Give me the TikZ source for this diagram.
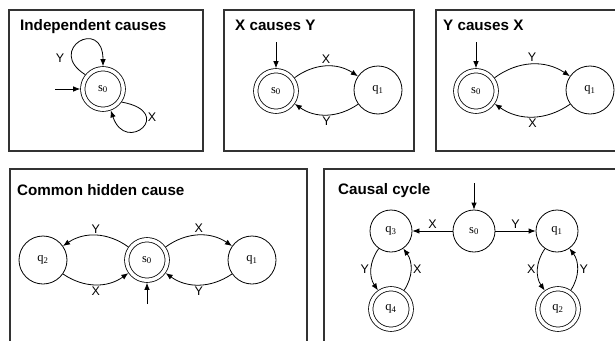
\documentclass[tikz,border=0pt]{standalone}
\usepackage{fontspec}
\setmainfont{Liberation Serif}
\newfontfamily\headfont{Liberation Sans}
\usetikzlibrary{arrows.meta}
\tikzset{
  panel/.style={draw=black!80, line width=1.1pt},
  heading/.style={anchor=base west, inner sep=0pt,
    font=\headfont\bfseries\fontsize{15.2}{17}\selectfont},
  lbl/.style={font=\headfont\fontsize{12.5}{14}\selectfont, inner sep=2pt},
  state/.style={draw, circle, line width=0.8pt, minimum size=48pt, inner sep=0pt,
    font=\fontsize{12.5}{14}\selectfont},
  smallstate/.style={state, minimum size=42pt},
  accept/.style={state, minimum size=40.5pt, double, double distance=3.5pt,
    outer sep=2.55pt},
  arc/.style={-{Latex[length=7pt,width=5.5pt]}, line width=0.8pt},
}
\newcommand{\stname}[2]{#1\textsubscript{#2}}
\begin{document}
\begin{tikzpicture}[x=1pt,y=1pt]
  \useasboundingbox (0,0) rectangle (615,-340);
  \clip (0,0) rectangle (615,-340);

  % frames
  \draw[panel] (9,-10) rectangle (203,-151);
  \draw[panel] (224,-10) rectangle (414,-151);
  \draw[panel] (436,-10) rectangle (625,-151);
  \draw[panel] (10,-350) -- (10,-169) -- (307,-169) -- (307,-350);
  \draw[panel] (324,-350) -- (324,-169) -- (625,-169) -- (625,-350);

  % headings
  \node[heading] (h1) at (20,-30) {Independent causes};
  \node[heading] (h2) at (235,-30) {X causes Y};
  \node[heading] (h3) at (443,-30) {Y causes X};
  \node[heading] (h4) at (17,-195) {Common hidden cause};
  \node[heading] (h5) at (338,-194) {Causal cycle};

  % independent causes
  \node[accept] (a0) at (103,-89) {\stname{s}{0}};
  \coordinate (a0in) at (55,-89);
  \draw[arc] (a0in) -- (a0.180);
  \draw[arc] (a0.141) .. controls +(-40,25) and +(0,50) .. (a0.90);
  \draw[arc] (a0.-35) .. controls +(55,-10) and +(15,-45) .. (a0.-70);
  \node[lbl] (a0y) at (60,-58) {Y};
  \node[lbl] (a0x) at (152,-117) {X};

  % X causes Y
  \node[accept] (b0) at (276,-91) {\stname{s}{0}};
  \node[state] (b1) at (378,-90) {\stname{q}{1}};
  \coordinate (b0in) at (276,-42);
  \draw[arc] (b0in) -- (b0.90);
  \draw[arc] (b0) to[bend left=35] node[lbl, above] {X} (b1);
  \draw[arc] (b1) to[bend left=35] node[lbl, below] {Y} (b0);

  % Y causes X
  \node[accept] (c0) at (476,-91) {\stname{s}{0}};
  \node[state] (c1) at (590,-90) {\stname{q}{1}};
  \coordinate (c0in) at (476,-42);
  \draw[arc] (c0in) -- (c0.90);
  \draw[arc] (c0) to[bend left=35] node[lbl, above] {Y} (c1);
  \draw[arc] (c1) to[bend left=35] node[lbl, below] {X} (c0);

  % common hidden cause
  \node[state] (d2) at (43,-260) {\stname{q}{2}};
  \node[accept] (d0) at (147,-260) {\stname{s}{0}};
  \node[state] (d1) at (252,-260) {\stname{q}{1}};
  \coordinate (d0in) at (147,-304);
  \draw[arc] (d0in) -- (d0.-90);
  \draw[arc] (d0) to[bend right=35] node[lbl, above] {Y} (d2);
  \draw[arc] (d2) to[bend right=35] node[lbl, below] {X} (d0);
  \draw[arc] (d0) to[bend left=35] node[lbl, above] {X} (d1);
  \draw[arc] (d1) to[bend left=35] node[lbl, below] {Y} (d0);

  % causal cycle
  \node[smallstate] (e0) at (474,-231) {\stname{s}{0}};
  \node[smallstate] (e3) at (391,-231) {\stname{q}{3}};
  \node[smallstate] (e1) at (557,-231) {\stname{q}{1}};
  \node[accept] (e4) at (391,-309) {\stname{q}{4}};
  \node[accept] (e2) at (558,-309) {\stname{q}{2}};
  \coordinate (e0in) at (474,-183);
  \draw[arc] (e0in) -- (e0.90);
  \draw[arc] (e0) -- node[lbl, above] {X} (e3);
  \draw[arc] (e0) -- node[lbl, above] {Y} (e1);
  \draw[arc] (e3) to[bend right=35] node[lbl, left] {Y} (e4);
  \draw[arc] (e4) to[bend right=35] node[lbl, right] {X} (e3);
  \draw[arc] (e1) to[bend right=35] node[lbl, left] {X} (e2);
  \draw[arc] (e2) to[bend right=35] node[lbl, right] {Y} (e1);
\end{tikzpicture}
\end{document}
